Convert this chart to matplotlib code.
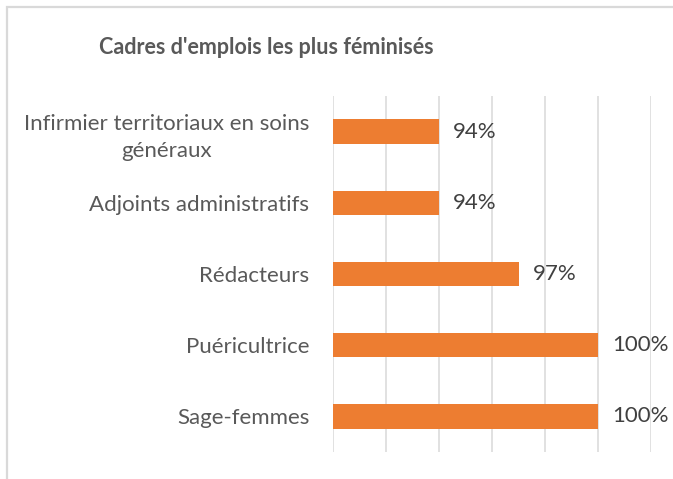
import matplotlib.pyplot as plt
from matplotlib.patches import Rectangle

# donnees (de bas en haut)
categories = ['Sage-femmes', 'Puéricultrice', 'Rédacteurs',
              'Adjoints administratifs', 'Infirmier territoriaux en soins\ngénéraux']
valeurs = [100, 100, 97, 94, 94]
etiquettes = ['100%', '100%', '97%', '94%', '94%']

plt.rcParams['font.family'] = ['Lato', 'DejaVu Sans']

fig = plt.figure(figsize=(6.73, 4.79), dpi=100)
ax = fig.add_axes([333/673, 1-452/479, (651-333)/673, (452-96)/479])

# cadre du graphique
fig.patches.append(Rectangle((7/673, -0.1), 1.2, 1-7/479+0.1, transform=fig.transFigure,
                             fill=False, edgecolor='#d9d9d9', linewidth=1.6, zorder=0))

y = range(len(categories))
ax.barh(y, valeurs, height=0.34, color='#ed7d31', zorder=3)
ax.set_xlim(90, 102)
ax.set_ylim(-0.5, 4.5)
ax.set_xticks(range(90, 103, 2))
ax.xaxis.grid(True, color='#d9d9d9', linewidth=1.1, zorder=0)
ax.tick_params(axis='x', length=0, labelbottom=False)
ax.tick_params(axis='y', length=0, pad=17)
ax.set_yticks(list(y))
ax.set_yticklabels(categories, fontsize=16, color='#595959', ha='right',
                   multialignment='center', linespacing=1.45)
for s in ax.spines.values():
    s.set_visible(False)

for i, v in enumerate(valeurs):
    ax.annotate(etiquettes[i], (v, i), xytext=(10, 0), textcoords='offset points',
                va='center', ha='left', fontsize=16, color='#404040')

fig.text(266/673, 1-47/479, "Cadres d'emplois les plus féminisés", ha='center', va='center',
         fontsize=15.5, fontweight='bold', color='#595959')

fig.savefig('out.png', dpi=100)
